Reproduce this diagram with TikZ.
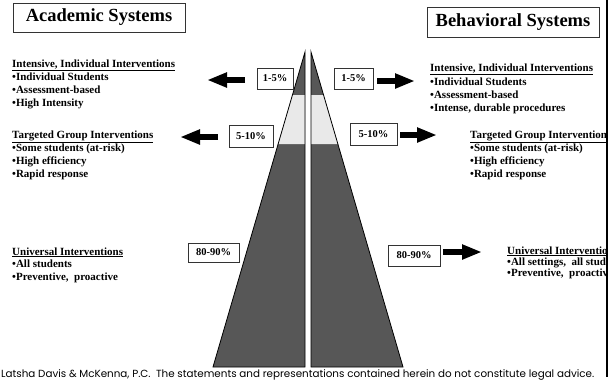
\documentclass[tikz,border=0pt]{standalone}
\usepackage{fontspec}
\setmainfont{Liberation Serif}
\newfontfamily\footfont{Poppins}
\usetikzlibrary{arrows.meta}
\definecolor{pyrdark}{HTML}{575757}
\definecolor{pyrlight}{HTML}{E9E9E9}
\definecolor{boxline}{HTML}{333333}
\tikzset{
  txt/.style={anchor=base west, inner sep=0pt, font=\fontsize{11}{13}\selectfont\bfseries},
  titlebox/.style={draw=boxline, line width=0.8pt, minimum width=172pt, minimum height=29pt, inner sep=0pt, font=\fontsize{18.5}{22}\selectfont\bfseries},
  pctbox/.style={draw=boxline, line width=0.8pt, inner sep=0pt, font=\fontsize{10.5}{12}\selectfont\bfseries},
  bigarrow/.style={line width=5.5pt, -{Triangle[length=20pt,width=14pt]}},
  pyr/.style={draw=black, line width=0.8pt}
}
\begin{document}
\begin{tikzpicture}[x=1pt,y=-1pt]
\useasboundingbox (0,0) rectangle (613,381);
% pyramid halves
\fill[pyrdark] (305,52) -- (305,367) -- (213,367) -- cycle;
\fill[pyrlight] (292.4,95) -- (305,95) -- (305,144) -- (278.1,144) -- cycle;
\draw[pyr] (305,52) -- (305,367) -- (213,367) -- cycle;
\fill[pyrdark] (311,52) -- (311,367) -- (403,367) -- cycle;
\fill[pyrlight] (323.6,95) -- (311,95) -- (311,144) -- (337.9,144) -- cycle;
\draw[pyr] (311,52) -- (311,367) -- (403,367) -- cycle;
% titles
\node[titlebox] (tA) at (99,17.5) {Academic Systems};
\node[titlebox, minimum height=30pt] (tB) at (513,22) {Behavioral Systems};
% percent boxes
\node[pctbox, minimum width=36pt, minimum height=21pt] (pL1) at (275,78.5) {1-5\%};
\node[pctbox, minimum width=44pt, minimum height=22pt] (pL2) at (251,136) {5-10\%};
\node[pctbox, minimum width=51pt, minimum height=19pt] (pL3) at (213.5,252.5) {80-90\%};
\node[pctbox, minimum width=39pt, minimum height=21pt] (pR1) at (353.5,78.5) {1-5\%};
\node[pctbox, minimum width=47pt, minimum height=22pt] (pR2) at (373.5,134) {5-10\%};
\node[pctbox, minimum width=52pt, minimum height=21pt] (pR3) at (414,255.5) {80-90\%};
% arrows
\coordinate (aL1s) at (245,80); \coordinate (aL1e) at (207,80);
\coordinate (aL2s) at (218,137); \coordinate (aL2e) at (180,137);
\coordinate (aR1s) at (377,81); \coordinate (aR1e) at (415,81);
\coordinate (aR2s) at (400,135); \coordinate (aR2e) at (437,135);
\coordinate (aR3s) at (443,252); \coordinate (aR3e) at (482,252);
\draw[bigarrow] (aL1s) -- (aL1e);
\draw[bigarrow] (aL2s) -- (aL2e);
\draw[bigarrow] (aR1s) -- (aR1e);
\draw[bigarrow] (aR2s) -- (aR2e);
\draw[bigarrow] (aR3s) -- (aR3e);
% left texts
\node[txt] (l1h) at (12,67) {\underline{Intensive, Individual Interventions}};
\node[txt] (l1a) at (12,80) {•Individual Students};
\node[txt] (l1b) at (12,93) {•Assessment-based};
\node[txt] (l1c) at (12,106) {•High Intensity};
\node[txt] (l2h) at (12,138) {\underline{Targeted Group Interventions}};
\node[txt] (l2a) at (12,151) {•Some students (at-risk)};
\node[txt] (l2b) at (12,164) {•High efficiency};
\node[txt] (l2c) at (12,177) {•Rapid response};
\node[txt] (l3h) at (12,255) {\underline{Universal Interventions}};
\node[txt] (l3a) at (12,267) {•All students};
\node[txt] (l3b) at (12,280) {•Preventive, \ proactive};
% right texts (clipped at border, as in the reference)
\begin{scope}
\clip (0,0) rectangle (606,381);
\node[txt] (r1h) at (430,71) {\underline{Intensive, Individual Interventions}};
\node[txt] (r1a) at (430,85) {•Individual Students};
\node[txt] (r1b) at (430,98) {•Assessment-based};
\node[txt] (r1c) at (430,111) {•Intense, durable procedures};
\node[txt] (r2h) at (470,138) {\underline{Targeted Group Interventions}};
\node[txt] (r2a) at (470,151) {•Some students (at-risk)};
\node[txt] (r2b) at (470,164) {•High efficiency};
\node[txt] (r2c) at (470,177) {•Rapid response};
\node[txt] (r3h) at (507,254) {\underline{Universal Interventions}};
\node[txt] (r3a) at (507,265) {•All settings, \ all students};
\node[txt] (r3b) at (507,276) {•Preventive, \ proactive};
\end{scope}
% right border
\draw[line width=2.5pt] (607,0) -- (607,377);
% footer
\node[anchor=base west, inner sep=0pt] (foot) at (1,377) {\resizebox{593pt}{!}{\footfont Latsha Davis \& McKenna, P.C.\ \ The statements and representations contained herein do not constitute legal advice.}};
\end{tikzpicture}
\end{document}
